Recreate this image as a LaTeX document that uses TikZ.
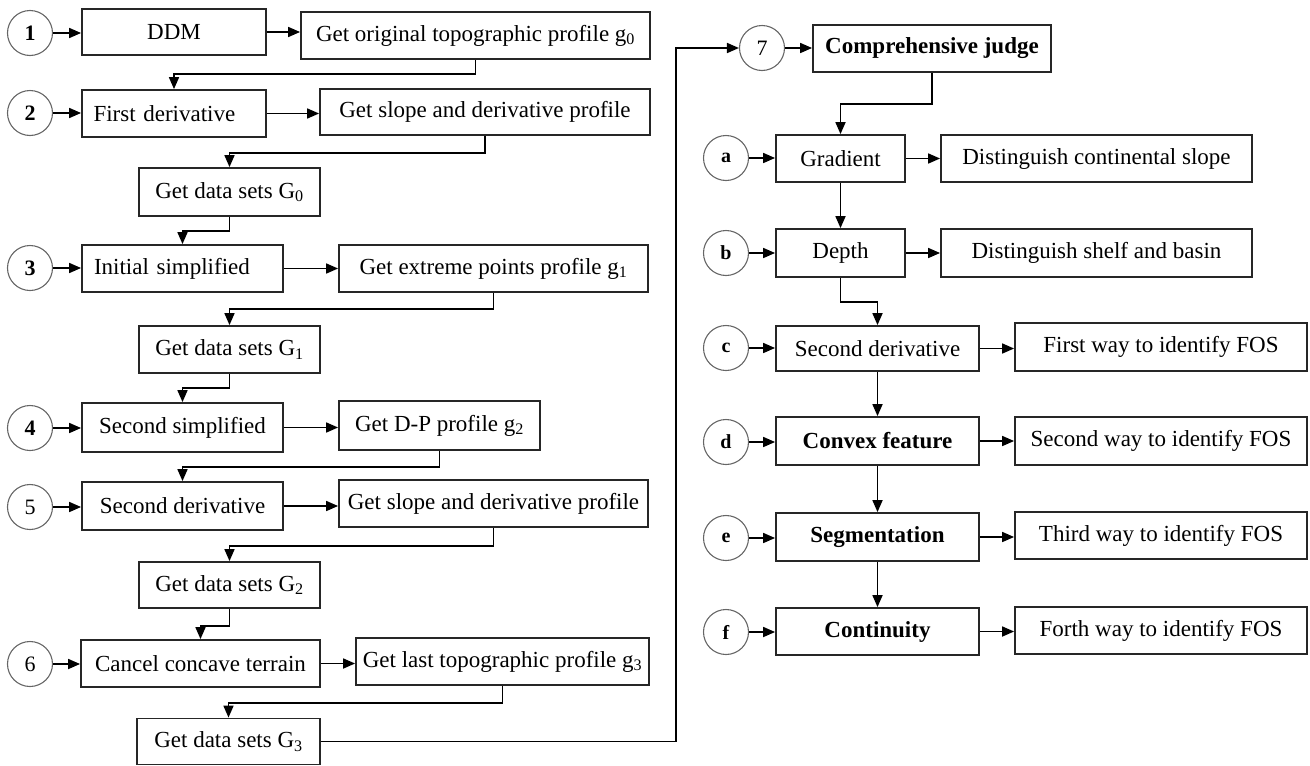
\documentclass[tikz,border=0pt]{standalone}
\usepackage{fontspec}
\setmainfont{Liberation Serif}
\usetikzlibrary{arrows.meta}
\tikzset{
  bx/.style={draw=black!85, line width=1.8pt, rectangle, inner sep=0pt,
    font=\fontsize{23}{27}\selectfont, anchor=center},
  bxb/.style={bx, font=\fontsize{23}{27}\selectfont\bfseries},
  num/.style={draw=black!60, line width=1.1pt, circle, minimum size=45pt, inner sep=0pt,
    font=\fontsize{22}{26}\selectfont},
  numb/.style={num, font=\fontsize{22}{26}\selectfont\bfseries},
  let/.style={num, font=\fontsize{20}{23}\selectfont\bfseries},
  arr/.style={draw=black, line width=1.7pt, -{Triangle[length=12pt,width=10pt]}},
  ln/.style={draw=black!85, line width=1.7pt}
}
\begin{document}
\begin{tikzpicture}[x=1pt,y=-1pt]
\useasboundingbox (0,0) rectangle (1310,766);
% ---------- left column ----------
\node[numb] (c1) at (30,33) {1};
\node[bx, minimum width=184pt, minimum height=46pt] (ddm) at (174,32) {DDM};
\node[bx, minimum width=349pt, minimum height=47pt] (g0) at (475.5,35.5) {Get original topographic profile g\textsubscript{0}};

\node[numb] (c2) at (30,113) {2};
\node[bx, minimum width=184pt, minimum height=47pt, text width=169pt, align=left] (fd) at (174,113.5) {\hspace*{4pt}First derivative};
\node[bx, minimum width=330pt, minimum height=46pt] (sp1) at (485,112) {Get slope and derivative profile};
\node[bx, minimum width=181pt, minimum height=48pt] (G0) at (229.5,192) {Get data sets G\textsubscript{0}};

\node[numb] (c3) at (30,268) {3};
\node[bx, minimum width=201pt, minimum height=47pt, text width=185pt, align=left] (is) at (182.5,268.5) {\hspace*{4pt}Initial simplified};
\node[bx, minimum width=309pt, minimum height=47pt] (ep) at (493.5,268.5) {Get extreme points profile g\textsubscript{1}};
\node[bx, minimum width=181pt, minimum height=47pt] (G1) at (229.5,349.5) {Get data sets G\textsubscript{1}};

\node[numb] (c4) at (30,428) {4};
\node[bx, minimum width=201pt, minimum height=49pt] (ss) at (182.5,427.5) {Second simplified};
\node[bx, minimum width=201pt, minimum height=49pt] (dp) at (439.5,425.5) {Get D-P profile g\textsubscript{2}};

\node[num] (c5) at (30,507) {5};
\node[bx, minimum width=201pt, minimum height=48pt] (sd) at (182.5,506) {Second derivative};
\node[bx, minimum width=309pt, minimum height=47pt] (sp2) at (493.5,503.5) {Get slope and derivative profile};
\node[bx, minimum width=181pt, minimum height=46pt] (G2) at (229.5,585) {Get data sets G\textsubscript{2}};

\node[num] (c6) at (30,664) {6};
\node[bx, minimum width=239pt, minimum height=47pt] (cc) at (200.5,663.5) {Cancel concave terrain};
\node[bx, minimum width=293pt, minimum height=47pt] (lt) at (502.5,661.5) {Get last topographic profile g\textsubscript{3}};
\node[bx, minimum width=183pt, minimum height=46pt] (G3) at (228.5,741.5) {Get data sets G\textsubscript{3}};

% ---------- right column ----------
\node[num] (c7) at (762,48) {7};
\node[bxb, minimum width=238pt, minimum height=47pt] (cj) at (932,48.5) {Comprehensive judge};

\node[let] (ca) at (726,158) {a};
\node[bx, minimum width=129pt, minimum height=47pt] (gr) at (840.5,158.5) {Gradient};
\node[bx, minimum width=311pt, minimum height=47pt] (dcs) at (1096.5,158.5) {Distinguish continental slope};

\node[let] (cb) at (726,253) {b};
\node[bx, minimum width=129pt, minimum height=48pt] (de) at (840.5,253) {Depth};
\node[bx, minimum width=311pt, minimum height=48pt] (dsb) at (1096.5,253) {Distinguish shelf and basin};

\node[let] (ccc) at (726,348) {c};
\node[bx, minimum width=203pt, minimum height=45pt] (sd2) at (877.5,348.5) {Second derivative};
\node[bx, minimum width=292pt, minimum height=48pt] (fw1) at (1161,347) {First way to identify FOS};

\node[let] (cd) at (726,442) {d};
\node[bxb, minimum width=203pt, minimum height=48pt] (cf) at (877.5,441) {Convex feature};
\node[bx, minimum width=292pt, minimum height=48pt] (fw2) at (1161,441) {Second way to identify FOS};

\node[let] (ce) at (726,538) {e};
\node[bxb, minimum width=203pt, minimum height=48pt] (sg) at (877.5,537) {Segmentation};
\node[bx, minimum width=292pt, minimum height=47pt] (fw3) at (1161,535.5) {Third way to identify FOS};

\node[let] (cf2) at (726,632) {f};
\node[bxb, minimum width=203pt, minimum height=47pt] (co) at (877.5,631.5) {Continuity};
\node[bx, minimum width=292pt, minimum height=47pt] (fw4) at (1161,630.5) {Forth way to identify FOS};

% ---------- connectors: circles to boxes ----------
\foreach \c/\b in {c1/ddm,c2/fd,c3/is,c4/ss,c5/sd,c6/cc,c7/cj,ca/gr,cb/de,ccc/sd2,cd/cf,ce/sg,cf2/co}
  \draw[arr] (\c.east) -- (\c.east -| \b.west);
% box to box horizontal
\foreach \a/\b in {ddm/g0,fd/sp1,is/ep,ss/dp,sd/sp2,cc/lt,gr/dcs,de/dsb,sd2/fw1,cf/fw2,sg/fw3,co/fw4}
  \draw[arr] (\a.east) -- (\a.east -| \b.west);
% elbow connectors
\draw[arr] (g0.south) -- ++(0,14) -| (fd.north);
\draw[arr] (sp1.south) -- ++(0,17) -| (G0.north);
\draw[arr] (G0.south) -- ++(0,14) -| (is.north);
\draw[arr] (ep.south) -- ++(0,16) -| (G1.north);
\draw[arr] (G1.south) -- ++(0,14) -| (ss.north);
\draw[arr] (dp.south) -- ++(0,16) -| (sd.north);
\draw[arr] (sp2.south) -- ++(0,18) -| (G2.north);
\draw[arr] (G2.south) -- ++(0,17) -| (cc.north);
\draw[arr] (lt.south) -- ++(0,17) -| (G3.north);
\draw[arr] (G3.east) -- (676,741.5) -- (676,48) -- (c7.west);
\draw[arr] (cj.south) -- ++(0,31) -| (gr.north);
\draw[arr] (gr.south) -- (de.north);
\draw[arr] (de.south) -- ++(0,24) -| (sd2.north);
\draw[arr] (sd2.south) -- (sd2.south |- cf.north);
\draw[arr] (cf.south) -- (cf.south |- sg.north);
\draw[arr] (sg.south) -- (sg.south |- co.north);
\end{tikzpicture}
\end{document}
